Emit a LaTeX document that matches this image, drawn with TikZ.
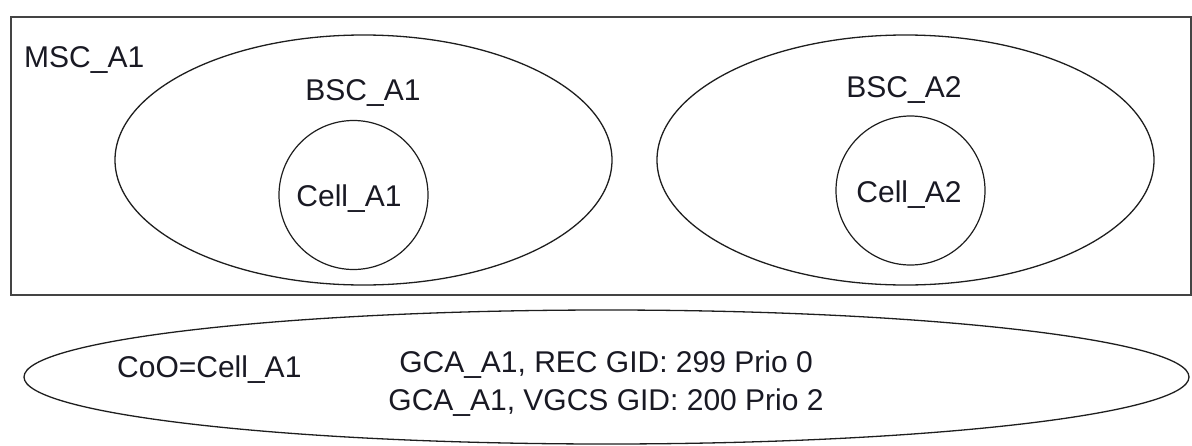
\documentclass[tikz,border=0pt]{standalone}
\usepackage{fontspec}
\setmainfont{Liberation Sans}
\usepackage{tikz}
\usetikzlibrary{shapes.geometric}
\definecolor{FrameGray}{RGB}{68, 68, 68}
\definecolor{LineBlack}{RGB}{30, 30, 30}
\definecolor{TextBlack}{RGB}{25, 25, 35}

\begin{document}
\begin{tikzpicture}[x=1pt, y=-1pt,
    area/.style={ellipse, draw=LineBlack, line width=1.3pt, inner sep=0pt},
    cellarea/.style={circle, draw=LineBlack, line width=1.2pt, inner sep=0pt, minimum size=149pt},
    lbl/.style={text=TextBlack, inner sep=0pt, font=\fontsize{30}{38}\selectfont}]
  \useasboundingbox (0,0) rectangle (1192,445);
  \node[rectangle, draw=FrameGray, line width=2pt, inner sep=0pt, minimum width=1180pt, minimum height=277.5pt, anchor=north west] (msc) at (10,16) {};
  \node[lbl, anchor=base west] (msclbl) at (24,67) {MSC\_A1};
  \node[area, minimum width=497pt, minimum height=250pt] (bsc1) at (363.5,160) {};
  \node[lbl, anchor=base] (bsc1lbl) at (363,100) {BSC\_A1};
  \node[cellarea] (cell1) at (353.5,195) {};
  \node[lbl, anchor=base] (cell1lbl) at (349,206) {Cell\_A1};
  \node[area, minimum width=497pt, minimum height=250pt] (bsc2) at (905.5,160) {};
  \node[lbl, anchor=base] (bsc2lbl) at (904,97) {BSC\_A2};
  \node[cellarea] (cell2) at (910.5,190.5) {};
  \node[lbl, anchor=base] (cell2lbl) at (909,202) {Cell\_A2};
  \node[area, minimum width=1165pt, minimum height=134pt] (coo) at (606.5,377) {};
  \node[lbl, anchor=base west] (coolbl) at (117,377) {CoO=Cell\_A1};
  \node[lbl, align=center] (gca) at (606,384) {GCA\_A1, REC GID: 299 Prio 0\\GCA\_A1, VGCS GID: 200 Prio 2};
\end{tikzpicture}
\end{document}
